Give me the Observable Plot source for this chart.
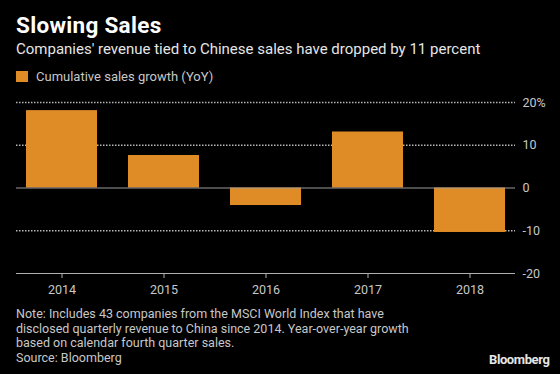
<!DOCTYPE html>
<html>
<head>
<meta charset="utf-8">
<script src="https://cdn.jsdelivr.net/npm/d3@7"></script>
<script src="https://cdn.jsdelivr.net/npm/@observablehq/plot@0.6"></script>
<style>
  html, body { margin: 0; padding: 0; background: #000; }
  #wrap { position: relative; width: 560px; height: 374px; background: #000; overflow: hidden; font-family: Roboto, "Open Sans", sans-serif; }
  .abs { position: absolute; white-space: nowrap; }
  #title { left: 16px; top: 12px; font-size: 22.5px; font-weight: 700; color: #fff; letter-spacing: 0.3px; }
  #subtitle { left: 16px; top: 40px; font-size: 15px; color: #e6e6e6; }
  #legend { left: 16px; top: 69px; font-size: 13px; color: #c8c8c8; display: flex; align-items: center; }
  #legend .sw { width: 12px; height: 11px; background: #e08c26; margin-right: 8px; }
  #chart { left: 0; top: 88px; }
  #note { left: 16px; top: 307px; font-size: 12.5px; line-height: 14.5px; color: #c8c8c8; }
  #logo { left: 489px; top: 352px; font-size: 13px; font-weight: 700; color: #e6e6e6; letter-spacing: -0.4px; }
</style>
</head>
<body>
<div id="wrap">
  <div id="title" class="abs">Slowing Sales</div>
  <div id="subtitle" class="abs">Companies' revenue tied to Chinese sales have dropped by 11 percent</div>
  <div id="legend" class="abs"><span class="sw"></span><span id="legendText"></span></div>
  <div id="chart" class="abs"></div>
  <div id="note" class="abs">Note: Includes 43 companies from the MSCI World Index that have<br>disclosed quarterly revenue to China since 2014. Year-over-year growth<br>based on calendar fourth quarter sales.<br>Source: Bloomberg</div>
  <div id="logo" class="abs">Bloomberg</div>
</div>
<script>
const years = ["2014", "2015", "2016", "2017", "2018"];
const growth = [18.1, 7.6, -4.1, 13.1, -10.4];
const yTicks = [20, 10, 0, -10, -20];
const gridTicks = [20, 10, -10];
const seriesName = "Cumulative sales growth (YoY)";

document.getElementById("legendText").textContent = seriesName;

const data = years.map((y, i) => ({year: y, value: growth[i]}));
const barColor = "#e08c26";

const chart = Plot.plot({
  width: 560,
  height: 212,
  marginLeft: 16,
  marginRight: 45,
  marginTop: 14,
  marginBottom: 27,
  style: {background: "transparent", fontFamily: "Roboto, 'Open Sans', sans-serif", fontSize: "12.5px", color: "#c8c8c8"},
  x: {domain: years, paddingInner: 0.3, paddingOuter: 0.084, label: null},
  y: {domain: [-20, 20], label: null},
  marks: [
    Plot.ruleY(gridTicks, {stroke: "#b8b8b8", strokeWidth: 1.5, strokeDasharray: "1.5,1.5"}),
    Plot.barY(data, {x: "year", y: "value", fill: barColor}),
    Plot.ruleY([0], {stroke: "#9a9a9a", strokeWidth: 1.2}),
    Plot.ruleY([-20], {stroke: "#b0b0b0", strokeWidth: 1.2}),
    Plot.axisY({anchor: "right", ticks: yTicks, tickSize: 0, tickPadding: 7, tickFormat: d => d === 20 ? "20%" : String(d), textAnchor: "start", fill: "#c8c8c8", fontSize: 12.5}),
    Plot.axisX({anchor: "bottom", tickSize: 5, tickPadding: 7, stroke: "#b0b0b0", fill: "#c8c8c8", fontSize: 12.5})
  ]
});
document.getElementById("chart").appendChild(chart);
</script>
</body>
</html>
